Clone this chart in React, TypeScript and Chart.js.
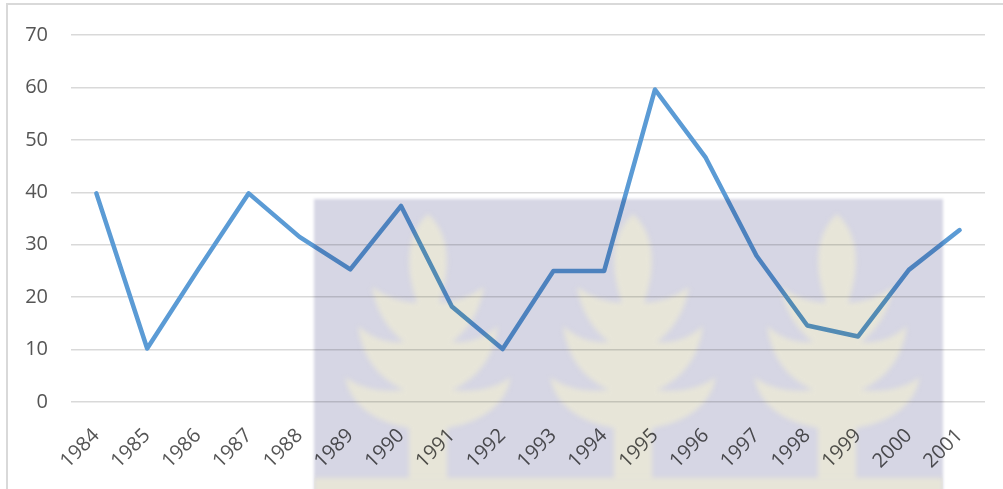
import React, { useEffect, useRef } from "react";
import { Chart, registerables } from "chart.js";

Chart.register(...registerables);

const years = ["1984","1985","1986","1987","1988","1989","1990","1991","1992","1993","1994","1995","1996","1997","1998","1999","2000","2001"];
const values = [39.8, 10.2, 25.2, 39.8, 31.5, 25.3, 37.4, 18.2, 10.1, 25.0, 25.0, 59.6, 46.6, 27.9, 14.6, 12.5, 25.2, 32.8];
const yTicks = [0, 10, 20, 30, 40, 50, 60, 70];

const plantCenters = [428, 633, 837];

function plantPath(ctx: CanvasRenderingContext2D, cx: number) {
  ctx.beginPath();
  ctx.moveTo(cx, 214);
  const R = (d: number) => cx + d;
  ctx.quadraticCurveTo(R(23), 235, R(18), 275);
  ctx.quadraticCurveTo(R(15), 292, R(11), 303);
  ctx.quadraticCurveTo(R(35), 302, R(56), 287);
  ctx.quadraticCurveTo(R(50), 322, R(24), 342);
  ctx.quadraticCurveTo(R(50), 344, R(70), 326);
  ctx.quadraticCurveTo(R(64), 372, R(24), 390);
  ctx.quadraticCurveTo(R(60), 394, R(83), 377);
  ctx.quadraticCurveTo(R(75), 418, R(19), 428);
  ctx.lineTo(R(19), 482);
  const X = (d: number) => cx - d;
  ctx.lineTo(X(19), 482);
  ctx.lineTo(X(19), 428);
  ctx.quadraticCurveTo(X(75), 418, X(83), 377);
  ctx.quadraticCurveTo(X(60), 394, X(24), 390);
  ctx.quadraticCurveTo(X(64), 372, X(70), 326);
  ctx.quadraticCurveTo(X(50), 344, X(24), 342);
  ctx.quadraticCurveTo(X(50), 322, X(56), 287);
  ctx.quadraticCurveTo(X(35), 302, X(11), 303);
  ctx.quadraticCurveTo(X(15), 292, X(18), 275);
  ctx.quadraticCurveTo(X(23), 235, cx, 214);
  ctx.closePath();
}

const watermarkPlugin = {
  id: "watermark",
  afterDraw(chart: any) {
    const c = chart.ctx as CanvasRenderingContext2D;
    const W = chart.width, H = chart.height;
    const off = document.createElement("canvas");
    off.width = W; off.height = H;
    const o = off.getContext("2d")!;
    o.fillStyle = "#ffffff";
    o.fillRect(0, 0, W, H);
    o.save();
    o.filter = "blur(1.5px)";
    o.fillStyle = "#d6d6e4";
    o.fillRect(314, 199, 629, H);
    o.restore();
    o.save();
    o.beginPath();
    o.rect(314, 199, 629, H);
    o.clip();
    o.filter = "blur(2.5px)";
    o.fillStyle = "#e7e5d8";
    for (const cx of plantCenters) {
      plantPath(o, cx);
      o.fill();
    }
    o.fillRect(314, 478, 629, H);
    o.restore();
    c.save();
    c.globalCompositeOperation = "multiply";
    c.drawImage(off, 0, 0);
    c.restore();
  },
};

export default function App() {
  const ref = useRef<HTMLCanvasElement | null>(null);
  useEffect(() => {
    if (!ref.current) return;
    const chart = new Chart(ref.current, {
      type: "line",
      data: {
        labels: years,
        datasets: [
          {
            data: values,
            borderColor: "#5b9bd5",
            borderWidth: 4.5,
            pointRadius: 0,
            tension: 0,
            borderJoinStyle: "round",
            borderCapStyle: "round",
            fill: false,
          },
        ],
      },
      options: {
        animation: false,
        responsive: false,
        layout: { padding: { top: 33, right: 18, left: 0, bottom: 0 } },
        plugins: { legend: { display: false }, tooltip: { enabled: false } },
        scales: {
          x: {
            offset: true,
            grid: { display: false, drawTicks: false },
            border: { display: false },
            ticks: {
              minRotation: 45,
              maxRotation: 45,
              autoSkip: false,
              padding: 22,
              color: "#555555",
              font: { family: "Open Sans", size: 20 },
            },
            afterFit: (s: any) => { s.height = 87; },
          },
          y: {
            min: 0,
            max: 70,
            afterBuildTicks: (s: any) => { s.ticks = yTicks.map((v) => ({ value: v })); },
            grid: { color: "#d9d9d9", lineWidth: 1.5, drawTicks: false },
            border: { display: false },
            ticks: {
              padding: 23,
              color: "#555555",
              font: { family: "Open Sans", size: 20 },
            },
            afterFit: (s: any) => { s.width = 71; },
          },
        },
      },
      plugins: [watermarkPlugin],
    });
    return () => chart.destroy();
  }, []);
  return (
    <div style={{ position: "fixed", left: 0, top: 0, width: 1003, height: 489, overflow: "hidden", background: "#fff" }}>
      <canvas ref={ref} width={1003} height={489} style={{ position: "absolute", left: 0, top: 0, width: 1003, height: 489 }} />
      <div style={{ position: "absolute", left: 6, top: 3, width: 1020, height: 520, border: "2px solid #d9d9d9", pointerEvents: "none" }} />
    </div>
  );
}
